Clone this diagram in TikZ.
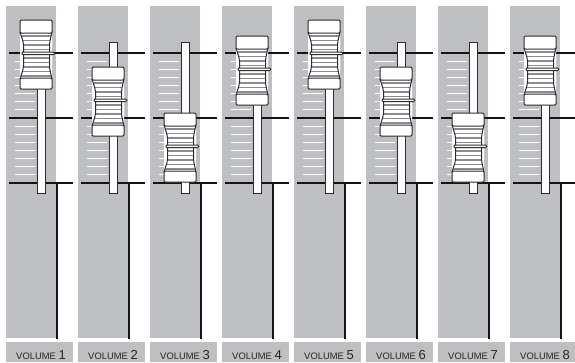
\documentclass[tikz,border=0pt]{standalone}
\usepackage{fontspec}
\newfontfamily\labelfont{Liberation Sans}
\definecolor{stripgray}{RGB}{190,191,195}
\definecolor{ridgegray}{RGB}{138,139,144}
\definecolor{outlinegray}{RGB}{45,45,48}
\tikzset{
	strip/.style={fill=stripgray, draw=none},
	scaleline/.style={line width=1.7pt, black!92},
	tickmark/.style={line width=0.9pt, white},
	slot/.style={fill=white, draw=outlinegray, line width=1pt},
	knob/.style={fill=white, draw=outlinegray, line width=1pt, rounded corners=1.2pt},
	ridge/.style={line width=1.8pt, ridgegray},
	chanlabel/.style={font=\labelfont\fontsize{9.4}{10}\selectfont, text=black!85, inner sep=0pt, anchor=base}
}

\begin{document}
\begin{tikzpicture}[x=1pt, y=-1pt]
	\useasboundingbox (0,0) rectangle (575,362);
	
	%% -- one channel strip per fader
	\foreach \i/\t in {1/20,2/67,3/113,4/36,5/20,6/67,7/113,8/36}{
		\pgfmathsetmacro{\xo}{6+72*(\i-1)}
		
		%% -- strip and label plate
		\fill[strip] (\xo,6) rectangle ++(50,332);
		\fill[strip] (\xo,342) rectangle ++(67,20);
		
		%% -- fine scale ticks
		\foreach \k in {1,...,7}{
			\draw[tickmark] (\xo+9,53+8.125*\k) -- ++(20,0);
			\draw[tickmark] (\xo+9,118+8.125*\k) -- ++(20,0);
		}
		
		%% -- main scale lines
		\foreach \y in {53,118,183}
			\draw[scaleline] (\xo+3,\y) -- ++(64,0);
		\draw[scaleline] (\xo+51,183) -- (\xo+51,339);
		
		%% -- fader slot
		\draw[slot] (\xo+31,42) rectangle (\xo+39,193);
		
		%% -- fader knob: waist with ridges
		\begin{scope}
			\clip (\xo+14,\t+12) -- (\xo+17.5,\t+23) -- (\xo+17.5,\t+48) -- (\xo+14,\t+59)
			-- (\xo+46,\t+59) -- (\xo+43.5,\t+48) -- (\xo+43.5,\t+23) -- (\xo+46,\t+12) -- cycle;
			\fill[white] (\xo+13,\t+12) rectangle (\xo+47,\t+59);
			\foreach \r in {16,20.5,25,29.5,38,42.5,47,51.5,56}
				\draw[ridge] (\xo+13,\t+\r) -- (\xo+47,\t+\r);
		\end{scope}
		\draw[knob, rounded corners=2pt] (\xo+14,\t+12) -- (\xo+17.5,\t+23) -- (\xo+17.5,\t+48) -- (\xo+14,\t+59)
		(\xo+46,\t+59) -- (\xo+43.5,\t+48) -- (\xo+43.5,\t+23) -- (\xo+46,\t+12);
		\draw[knob, rounded corners=0.8pt] (\xo+16,\t+32) rectangle (\xo+48.5,\t+34.5);
		
		%% -- fader knob: caps
		\draw[knob] (\xo+14,\t) rectangle (\xo+46,\t+13);
		\draw[knob] (\xo+14,\t+58) rectangle (\xo+46,\t+69);
		
		%% -- channel label
		\node[chanlabel] (vol\i) at (\xo+35,359) {VOLUME\ {\fontsize{13}{14}\selectfont\i}};
	}
\end{tikzpicture}
\end{document}
